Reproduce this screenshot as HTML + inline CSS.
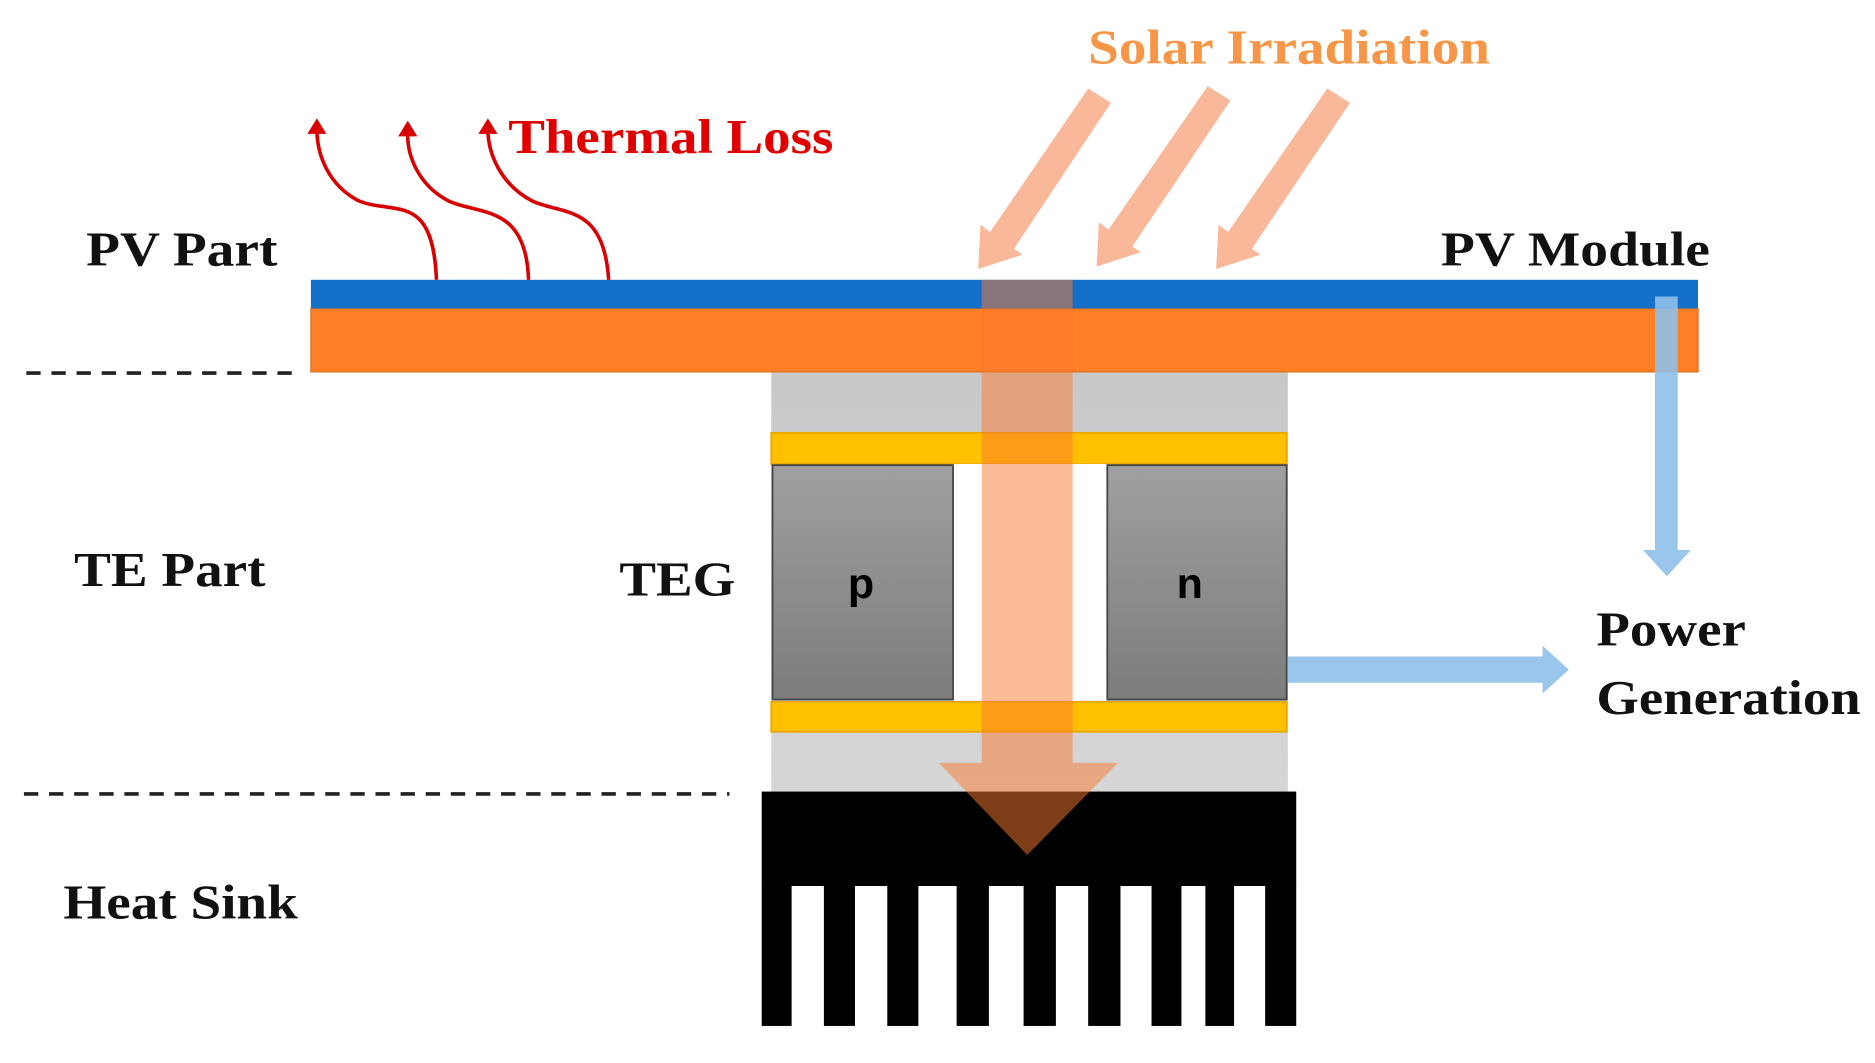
<!DOCTYPE html>
<html><head><style>html,body{margin:0;padding:0;background:#fff}svg{display:block}</style></head>
<body>
<svg width="1875" height="1063" viewBox="0 0 1568 889" preserveAspectRatio="none" xmlns="http://www.w3.org/2000/svg">
<defs>
<linearGradient id="gg" x1="0" y1="0" x2="0" y2="1"><stop offset="0" stop-color="#a0a0a0"/><stop offset="1" stop-color="#7c7c7c"/></linearGradient>
<linearGradient id="gr" x1="0" y1="0" x2="0" y2="1"><stop offset="0" stop-color="#c8c8c8"/><stop offset="1" stop-color="#d6d6d6"/></linearGradient>
</defs>
<g font-family="Liberation Serif, serif" font-weight="bold" font-size="41" fill="#111" lengthAdjust="spacingAndGlyphs">
<text x="72" y="222" textLength="160" lengthAdjust="spacingAndGlyphs">PV Part</text>
<text x="62" y="490" textLength="160" lengthAdjust="spacingAndGlyphs">TE Part</text>
<text x="53" y="768" textLength="196" lengthAdjust="spacingAndGlyphs">Heat Sink</text>
<text x="518" y="498" textLength="97" lengthAdjust="spacingAndGlyphs">TEG</text>
<text x="1205" y="222" textLength="225" lengthAdjust="spacingAndGlyphs">PV Module</text>
<text x="1335" y="540" textLength="125" lengthAdjust="spacingAndGlyphs">Power</text>
<text x="1335" y="597" textLength="221" lengthAdjust="spacingAndGlyphs">Generation</text>
<text x="425" y="128" fill="#e00000" textLength="272" lengthAdjust="spacingAndGlyphs">Thermal Loss</text>
<text x="910" y="53" fill="#f79646" textLength="336" lengthAdjust="spacingAndGlyphs">Solar Irradiation</text>
</g>
<g stroke="#222" stroke-width="3" stroke-dasharray="12,9">
<line x1="22" y1="312" x2="245" y2="312"/>
<line x1="20" y1="664" x2="610" y2="664"/>
</g>
<rect x="645" y="311" width="432" height="352" fill="url(#gr)"/>
<rect x="645" y="362" width="431" height="26" fill="#ffc000" stroke="#e8a800" stroke-width="1.5"/>
<rect x="645" y="587" width="431" height="25" fill="#ffc000" stroke="#e8a800" stroke-width="1.5"/>
<rect x="797" y="388" width="129" height="198" fill="#fff"/>
<rect x="646" y="389" width="151" height="196" fill="url(#gg)" stroke="#444" stroke-width="1.5"/>
<rect x="926" y="389" width="150" height="196" fill="url(#gg)" stroke="#444" stroke-width="1.5"/>
<text x="720" y="500" font-family="Liberation Sans, sans-serif" font-weight="bold" font-size="36" text-anchor="middle" fill="#000">p</text>
<text x="995" y="500" font-family="Liberation Sans, sans-serif" font-weight="bold" font-size="36" text-anchor="middle" fill="#000">n</text>
<rect x="637" y="662" width="447" height="79" fill="#000"/>
<g fill="#000">
<rect x="637" y="740" width="25" height="118"/><rect x="689" y="740" width="26" height="118"/>
<rect x="742" y="740" width="26" height="118"/><rect x="800" y="740" width="27" height="118"/>
<rect x="856" y="740" width="27" height="118"/><rect x="910" y="740" width="27" height="118"/>
<rect x="963" y="740" width="25" height="118"/><rect x="1008" y="740" width="24" height="118"/>
<rect x="1058" y="740" width="26" height="118"/>
</g>
<rect x="260" y="258" width="1160" height="53" fill="#fe7f26" stroke="#e06a10" stroke-width="1"/>
<rect x="260" y="234" width="1160" height="24" fill="#1470c8"/>
<path d="M821 234 H897 V638 H935 L859 715 L785 638 H821 Z" fill="#f97a2e" fill-opacity="0.5"/>
<g fill="#f9b090" fill-opacity="0.9">
<path d="M910 74 L929 86 L848 208 L855 213 L818 225 L820 188 L828 194 Z"/>
<path d="M1010 72 L1029 84 L947 206 L954 211 L917 223 L919 186 L927 192 Z"/>
<path d="M1110 74 L1129 86 L1047 208 L1054 213 L1017 225 L1019 188 L1027 194 Z"/>
</g>
<g stroke="#d80000" stroke-width="3" fill="none">
<path d="M365 234 C362 160 330 180 300 168 C275 155 265 130 265 108"/>
<path d="M442 234 C440 170 400 180 375 168 C350 155 340 130 341 110"/>
<path d="M509 234 C505 170 470 180 445 168 C420 155 408 130 408 108"/>
</g>
<g fill="#d80000">
<path d="M257 112 L265 99 L273 112 Z"/><path d="M333 114 L341 101 L349 114 Z"/><path d="M400 112 L408 99 L416 112 Z"/>
</g>
<g fill="#8ec0e8" fill-opacity="0.9">
<path d="M1384 248 H1403 V460 H1414 L1394 482 L1374 460 H1384 Z"/>
<path d="M1077 549 H1290 V540 L1312 560 L1290 580 V571 H1077 Z"/>
</g>
</svg>
</body></html>
